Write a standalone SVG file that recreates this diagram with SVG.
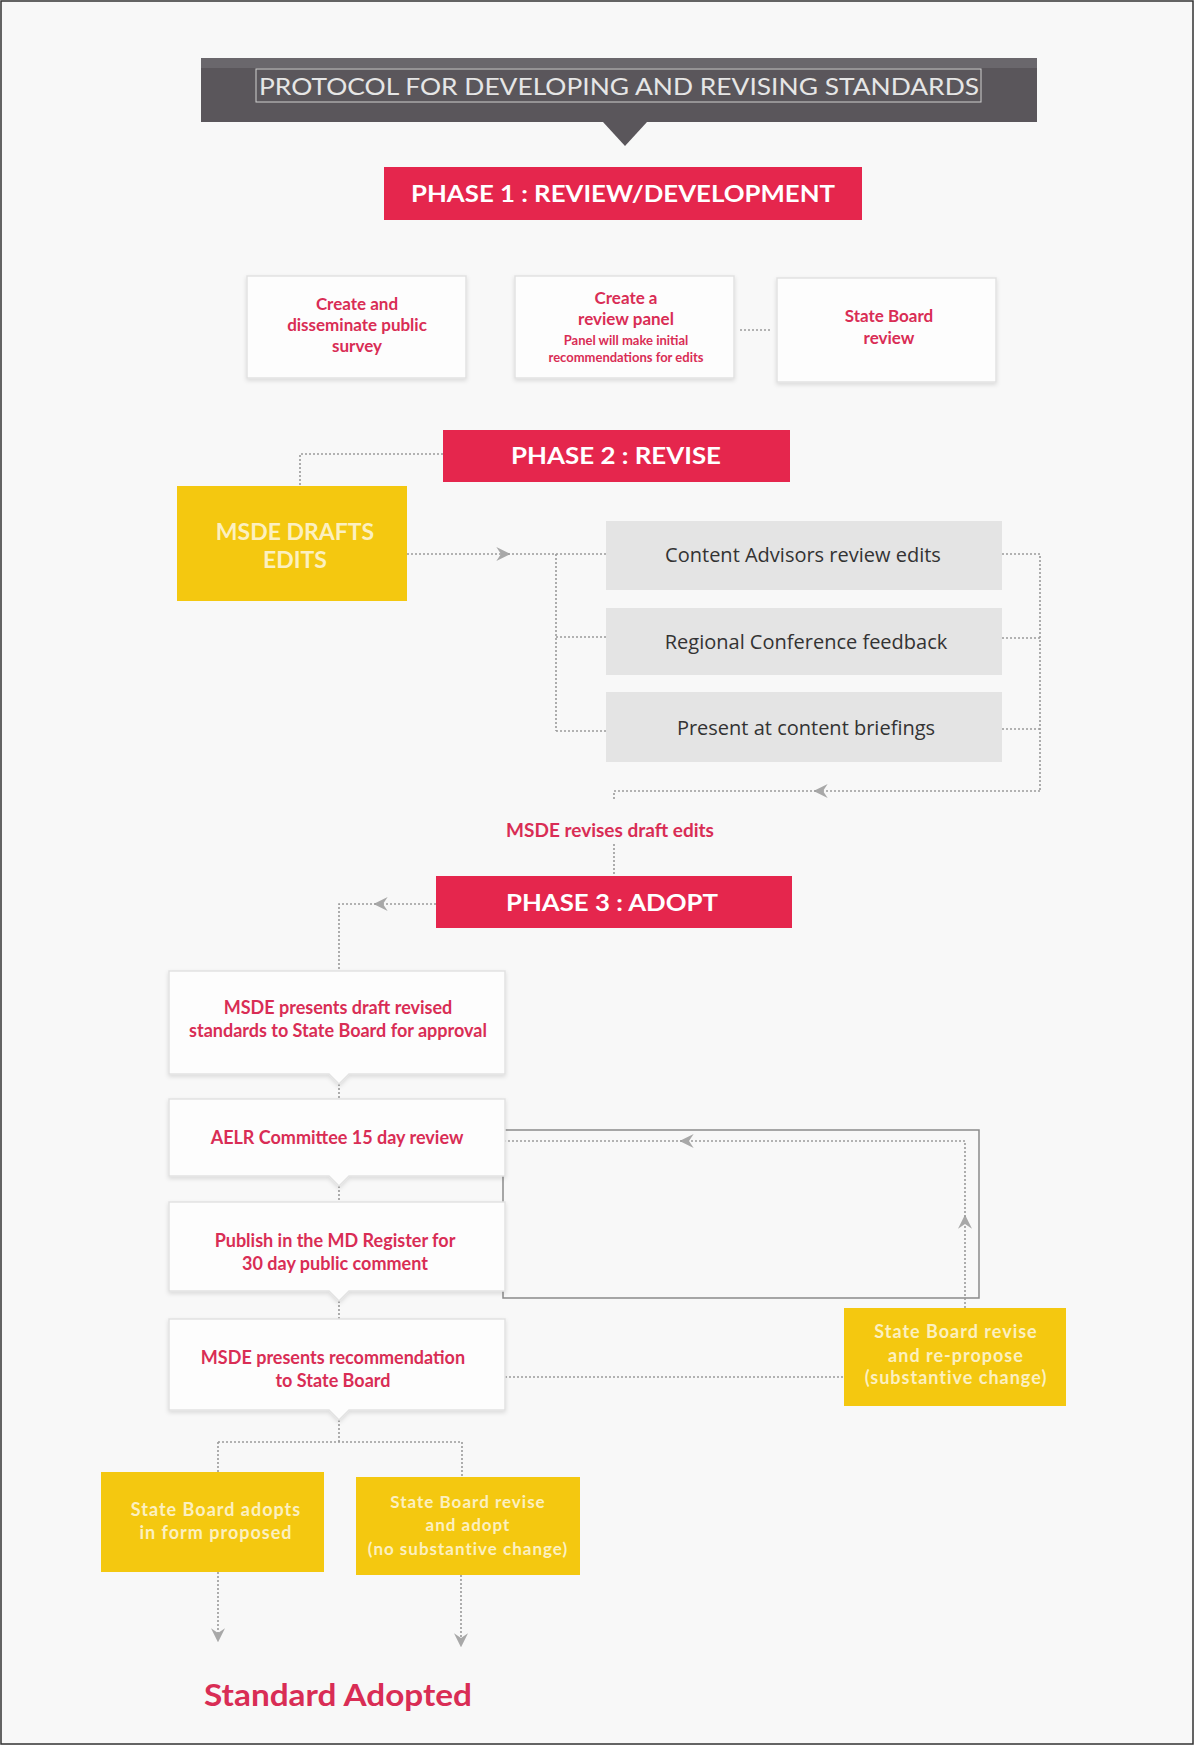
<svg xmlns="http://www.w3.org/2000/svg" width="1194" height="1745" viewBox="0 0 1194 1745">
<defs>
<style>
.bg{fill:#f8f8f8}
.red{fill:#e5264d}
.yel{fill:#f4c810}
.wbox{fill:#fdfdfd;stroke:#e2e2e2;stroke-width:1.5}
.gbox{fill:#e4e4e4}
.ph{font-family:Lato,"Open Sans",sans-serif;font-weight:bold;fill:#ffffff;text-anchor:middle}
.rt{font-family:Lato,"Liberation Sans",sans-serif;font-weight:bold;fill:#d92d55;text-anchor:middle}
.yt{font-family:Lato,"Liberation Sans",sans-serif;font-weight:bold;fill:#fcf0c0;text-anchor:middle;letter-spacing:1px}
.gt{font-family:"Open Sans","Liberation Sans",sans-serif;fill:#333333;text-anchor:middle;font-size:20px}
.dot{fill:none;stroke:#9a9a9a;stroke-width:1.6;stroke-dasharray:2 2}
</style>
<marker id="arr" viewBox="0 0 12 12" refX="10" refY="6" markerWidth="14" markerHeight="14" markerUnits="userSpaceOnUse" orient="auto">
<path d="M0,0 L12,6 L0,12 L4,6 z" fill="#a8a8a8"/>
</marker>
<filter id="sh" x="-10%" y="-10%" width="120%" height="130%">
<feDropShadow dx="0" dy="2" stdDeviation="2" flood-color="#000" flood-opacity="0.12"/>
</filter>
</defs>
<rect class="bg" x="0" y="0" width="1194" height="1745"/>
<rect x="1" y="1" width="1192" height="1743" fill="none" stroke="#333" stroke-width="1.5"/>

<g id="connectors">
<path class="dot" d="M740,330 H772"/>
<path class="dot" d="M443,454 H300 V486"/>
<path class="dot" d="M407,554 H508" marker-end="url(#arr)"/>
<path class="dot" d="M508,554 H606"/>
<path class="dot" d="M556,554 V731 M556,637 H606 M556,731 H606"/>
<path class="dot" d="M1002,554 H1040 V791 M1002,638 H1040 M1002,729 H1040"/>
<path class="dot" d="M1040,791 H816" marker-end="url(#arr)"/>
<path class="dot" d="M816,791 H614 V800"/>
<path class="dot" d="M614,844 V876"/>
<path class="dot" d="M436,904 H376" marker-end="url(#arr)"/>
<path class="dot" d="M376,904 H339 V971"/>
<path class="dot" d="M339,1084 V1099 M339,1186 V1202 M339,1301 V1319"/>
<rect x="503" y="1130" width="476" height="168" fill="none" stroke="#8a8a8a" stroke-width="1.5"/>
<path class="dot" d="M965,1308 V1217" marker-end="url(#arr)"/>
<path class="dot" d="M965,1217 V1141 H682" marker-end="url(#arr)"/>
<path class="dot" d="M682,1141 H505"/>
<path class="dot" d="M505,1377 H844"/>
<path class="dot" d="M339,1420 V1442 M218,1442 H462 M218,1442 V1472 M462,1442 V1477"/>
<path class="dot" d="M218,1572 V1640" marker-end="url(#arr)"/>
<path class="dot" d="M461,1575 V1645" marker-end="url(#arr)"/>
</g>

<g id="title">
<rect x="201" y="58" width="836" height="64" fill="#5a565b"/>
<rect x="201" y="58" width="836" height="10" fill="#6a676c"/>
<path d="M603,122 L647,122 L625,146 z" fill="#5a565b"/>
<rect x="256" y="69" width="725" height="33" fill="none" stroke="#cfcfcf" stroke-width="1"/>
<text x="619" y="95" font-family="Lato,'Open Sans',sans-serif" font-size="23" fill="#e6e6e6" text-anchor="middle" textLength="720" lengthAdjust="spacingAndGlyphs">PROTOCOL FOR DEVELOPING AND REVISING STANDARDS</text>
</g>

<g id="phase1">
<rect class="red" x="384" y="167" width="478" height="53"/>
<text class="ph" x="623" y="202" font-size="23" textLength="424" lengthAdjust="spacingAndGlyphs">PHASE 1 : REVIEW/DEVELOPMENT</text>
</g>

<g id="survey">
<rect class="wbox" x="247" y="276" width="219" height="102" filter="url(#sh)"/>
<text class="rt" font-size="17"><tspan x="357" y="310">Create and</tspan><tspan x="357" y="331">disseminate public</tspan><tspan x="357" y="352">survey</tspan></text>
</g>

<g id="panel">
<rect class="wbox" x="515" y="276" width="219" height="102" filter="url(#sh)"/>
<text class="rt" font-size="17"><tspan x="626" y="304">Create a</tspan><tspan x="626" y="325">review panel</tspan></text>
<text class="rt" font-size="13"><tspan x="626" y="345">Panel will make initial</tspan><tspan x="626" y="362">recommendations for edits</tspan></text>
</g>

<g id="boardreview">
<rect class="wbox" x="777" y="278" width="219" height="104" filter="url(#sh)"/>
<text class="rt" font-size="17"><tspan x="889" y="322">State Board</tspan><tspan x="889" y="344">review</tspan></text>
</g>

<g id="phase2">
<rect class="red" x="443" y="430" width="347" height="52"/>
<text class="ph" x="616" y="464" font-size="23" textLength="210" lengthAdjust="spacingAndGlyphs">PHASE 2 : REVISE</text>
</g>

<g id="msdedrafts">
<rect class="yel" x="177" y="486" width="230" height="115"/>
<text class="yt" font-size="23" style="letter-spacing:0"><tspan x="295" y="540">MSDE DRAFTS</tspan><tspan x="295" y="568">EDITS</tspan></text>
</g>

<g id="advisors">
<rect class="gbox" x="606" y="521" width="396" height="69"/>
<text class="gt" x="803" y="562">Content Advisors review edits</text>
</g>
<g id="regional">
<rect class="gbox" x="606" y="608" width="396" height="67"/>
<text class="gt" x="806" y="649">Regional Conference feedback</text>
</g>
<g id="briefings">
<rect class="gbox" x="606" y="692" width="396" height="70"/>
<text class="gt" x="806" y="735">Present at content briefings</text>
</g>

<g id="msderevises">
<text class="rt" x="610" y="837" font-size="19">MSDE revises draft edits</text>
</g>

<g id="phase3">
<rect class="red" x="436" y="876" width="356" height="52"/>
<text class="ph" x="612" y="911" font-size="23" textLength="212" lengthAdjust="spacingAndGlyphs">PHASE 3 : ADOPT</text>
</g>

<g id="presentdraft">
<path class="wbox" d="M169,971 H505 V1074 H349 L339,1084 L329,1074 H169 z" filter="url(#sh)"/>
<text class="rt" font-size="18"><tspan x="338" y="1014">MSDE presents draft revised</tspan><tspan x="338" y="1037">standards to State Board for approval</tspan></text>
</g>

<g id="aelr">
<path class="wbox" d="M169,1099 H505 V1176 H349 L339,1186 L329,1176 H169 z" filter="url(#sh)"/>
<text class="rt" x="337" y="1144" font-size="18">AELR Committee 15 day review</text>
</g>

<g id="publish">
<path class="wbox" d="M169,1202 H505 V1291 H349 L339,1301 L329,1291 H169 z" filter="url(#sh)"/>
<text class="rt" font-size="18"><tspan x="335" y="1247">Publish in the MD Register for</tspan><tspan x="335" y="1270">30 day public comment</tspan></text>
</g>

<g id="recommendation">
<path class="wbox" d="M169,1319 H505 V1410 H349 L339,1420 L329,1410 H169 z" filter="url(#sh)"/>
<text class="rt" font-size="18"><tspan x="333" y="1364">MSDE presents recommendation</tspan><tspan x="333" y="1387">to State Board</tspan></text>
</g>

<g id="repropose">
<rect class="yel" x="844" y="1308" width="222" height="98"/>
<text class="yt" font-size="18"><tspan x="956" y="1338">State Board revise</tspan><tspan x="956" y="1362">and re-propose</tspan><tspan x="956" y="1384">(substantive change)</tspan></text>
</g>

<g id="adoptsform">
<rect class="yel" x="101" y="1472" width="223" height="100"/>
<text class="yt" font-size="18"><tspan x="216" y="1516">State Board adopts</tspan><tspan x="216" y="1539">in form proposed</tspan></text>
</g>

<g id="reviseadopt">
<rect class="yel" x="356" y="1477" width="224" height="98"/>
<text class="yt" font-size="17"><tspan x="468" y="1508">State Board revise</tspan><tspan x="468" y="1531">and adopt</tspan><tspan x="468" y="1555">(no substantive change)</tspan></text>
</g>

<g id="adopted">
<text class="rt" x="338" y="1706" font-size="31" textLength="268" lengthAdjust="spacingAndGlyphs">Standard Adopted</text>
</g>
</svg>
